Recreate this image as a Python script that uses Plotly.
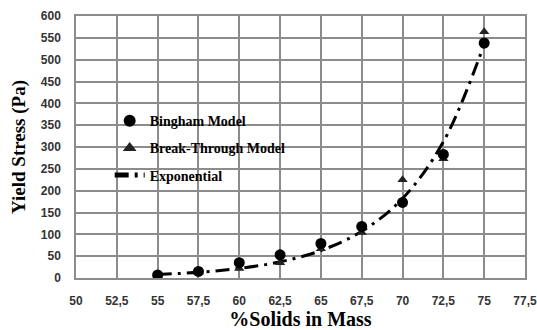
import plotly.graph_objects as go

solids = [55, 57.5, 60, 62.5, 65, 67.5, 70, 72.5, 75]
bingham = [7, 15, 35, 53, 79, 118, 173, 283, 538]
break_through = [6, 13, 22, 35, 67, 104, 225, 273, 564]
exponential = [8, 13, 22, 37, 63, 107, 182, 312, 535]

x_tickvals = [50, 52.5, 55, 57.5, 60, 62.5, 65, 67.5, 70, 72.5, 75, 77.5]
x_ticktext = ["50", "52,5", "55", "57,5", "60", "62,5", "65", "67,5", "70", "72,5", "75", "77,5"]
y_tickvals = [0, 50, 100, 150, 200, 250, 300, 350, 400, 450, 500, 550, 600]

serif = "Liberation Serif"
sans = "Liberation Sans"

fig = go.Figure()
fig.add_trace(go.Scatter(
    x=solids, y=exponential, mode="lines", name="Exponential",
    line=dict(color="black", width=3, dash="14px,6px,3px,6px", shape="spline"),
    legendgroup="c", legendrank=3,
))
fig.add_trace(go.Scatter(
    x=solids, y=break_through, mode="markers", name="Break-Through Model",
    marker=dict(symbol="triangle-up", size=9, color="#222"),
    legendgroup="b", legendrank=2,
))
fig.add_trace(go.Scatter(
    x=solids, y=bingham, mode="markers", name="Bingham Model",
    marker=dict(symbol="circle", size=11, color="black"),
    legendgroup="a", legendrank=1,
))

fig.add_shape(type="rect", xref="paper", yref="paper",
              x0=0.098, x1=0.472, y0=0.337, y1=0.663,
              fillcolor="white", line=dict(width=0), layer="between")

grid = "#8c8c8c"
fig.update_layout(
    width=537, height=330,
    margin=dict(l=76, r=12, t=16, b=52, autoexpand=False),
    paper_bgcolor="white", plot_bgcolor="white",
    showlegend=True,
    legend=dict(
        x=0.075, y=0.66, xanchor="left", yanchor="top",
        bgcolor="rgba(0,0,0,0)",
        font=dict(family=serif, size=14, color="black", weight="bold"),
        tracegroupgap=6, itemsizing="constant",
    ),
    xaxis=dict(
        range=[50, 77.5], tickvals=x_tickvals, ticktext=x_ticktext,
        showgrid=True, gridcolor=grid, gridwidth=1.5, zeroline=False,
        showline=True, mirror=True, linecolor=grid, linewidth=1.5,
        ticks="", ticklabelstandoff=11, automargin=False,
        ticklabeloverflow="allow",
        tickfont=dict(family=sans, size=12, color="#333", weight="bold"),
        title=dict(text="%Solids in Mass", standoff=8,
                   font=dict(family=serif, size=20, color="black", weight="bold")),
    ),
    yaxis=dict(
        range=[0, 600], tickvals=y_tickvals,
        showgrid=True, gridcolor=grid, gridwidth=1.5, zeroline=False,
        showline=True, mirror=True, linecolor=grid, linewidth=1.5,
        ticks="", ticklabelstandoff=11, automargin=False,
        ticklabeloverflow="allow",
        tickfont=dict(family=sans, size=12, color="#333", weight="bold"),
        title=dict(text="Yield Stress (Pa)", standoff=10,
                   font=dict(family=serif, size=19, color="black", weight="bold")),
    ),
)

fig.write_html("out.html")
